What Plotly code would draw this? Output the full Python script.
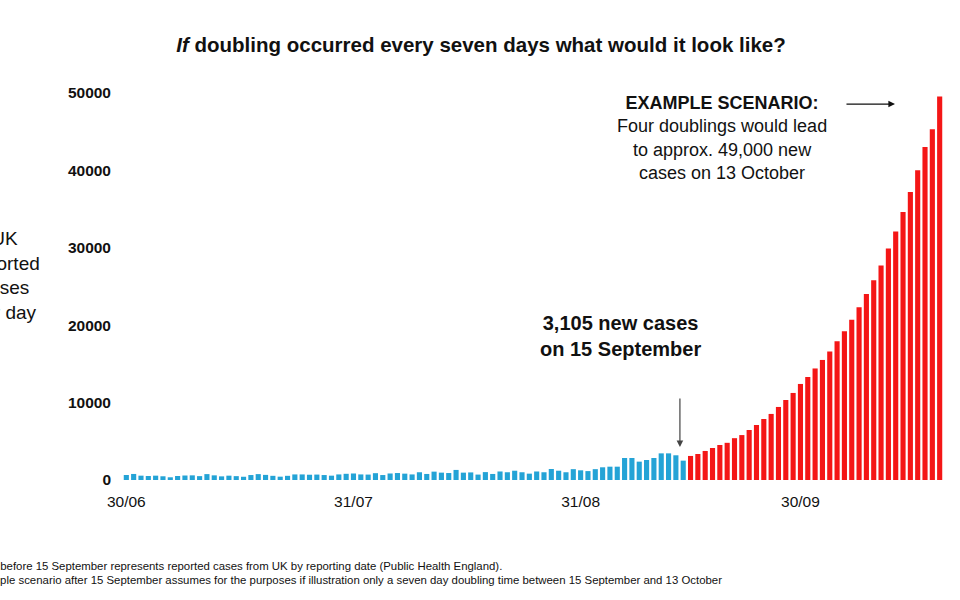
import plotly.graph_objects as go

# ---- data ----
reported_cases = [  # 30/06 .. 14/09 (blue bars)
    650, 780, 560, 520, 560, 480, 350, 520, 580, 600, 500, 760, 600, 470, 560, 500,
    420, 640, 760, 660, 540, 430, 540, 720, 720, 680, 700, 640, 560, 720, 800, 840,
    720, 700, 880, 640, 840, 900, 820, 720, 1000, 780, 1080, 950, 900, 1300, 950, 980,
    700, 1020, 780, 1100, 1000, 1200, 1000, 820, 1100, 1000, 1420, 1200, 1000, 1400,
    1250, 1150, 1400, 1640, 1720, 1720, 2840, 2840, 2370, 2580, 2840, 3440, 3440, 3190, 2500,
]
scenario_cases = [  # 15/09 onwards (red bars)
    3105, 3360, 3750, 4130, 4520, 4800, 5400, 5800, 6460, 7100, 7880, 8530, 9430,
    10330, 11240, 12400, 13300, 14400, 15500, 16600, 17900, 19200, 20700, 22300,
    24000, 25800, 27700, 29900, 32100, 34600, 37200, 40000, 43000, 45300, 49500,
]
x_tick_days = [0, 31, 62, 92]
x_tick_labels = ["30/06", "31/07", "31/08", "30/09"]
y_tick_vals = [0, 10000, 20000, 30000, 40000, 50000]
y_tick_labels = ["0", "10000", "20000", "30000", "40000", "50000"]

title_html = "<b><i>If</i> doubling occurred every seven days what would it look like?</b>"
left_label = "UK<br>reported<br>cases<br>per day"
note_1 = "Data before 15 September represents reported cases from UK by reporting date (Public Health England)."
note_2 = ("Example scenario after 15 September assumes for the purposes if illustration only a "
          "seven day doubling time between 15 September and 13 October")
ann_sept = "<b>3,105 new cases<br>on 15 September</b>"
ann_oct = "<b>EXAMPLE SCENARIO:</b><br>Four doublings would lead<br>to approx. 49,000 new<br>cases on 13 October"

days_blue = list(range(len(reported_cases)))
days_red = list(range(len(reported_cases), len(reported_cases) + len(scenario_cases)))

FONT = "Liberation Sans, Arial, Helvetica, sans-serif"
ML, MR, MT, MB = 119, 13, 85, 120
W, H = 960, 600
PW, PH = W - ML - MR, H - MT - MB


def px_x(p):
    return (p - ML) / PW


def px_y(p):
    return (H - MB - p) / PH


fig = go.Figure()
fig.add_trace(go.Bar(x=days_blue, y=reported_cases, marker=dict(color="#24a3d6", line_width=0),
                     showlegend=False))
fig.add_trace(go.Bar(x=days_red, y=scenario_cases, marker=dict(color="#f41616", line_width=0),
                     showlegend=False))

fig.update_layout(
    width=W, height=H,
    margin=dict(l=ML, r=MR, t=MT, b=MB),
    paper_bgcolor="white", plot_bgcolor="white",
    bargap=0.3,
    font=dict(family=FONT, color="#111"),
    title=dict(text=title_html, x=481 / W, xanchor="center", xref="container",
               y=1 - 45 / H, yanchor="middle", font=dict(size=20.5, family=FONT, color="#111")),
    xaxis=dict(range=[-1, 112], showgrid=False, zeroline=False, showline=False,
               tickmode="array", tickvals=x_tick_days, ticktext=x_tick_labels,
               ticks="", tickfont=dict(size=15.5, family=FONT, color="#111"),
               ticklabelstandoff=10),
    yaxis=dict(range=[0, 51000], showgrid=False, zeroline=False, showline=False,
               tickmode="array", tickvals=y_tick_vals, ticktext=y_tick_labels,
               ticks="", tickfont=dict(size=15.5, family=FONT, color="#111", weight="bold"),
               ticklabelstandoff=7),
)

annotations = [
    dict(text=left_label, xref="paper", yref="paper", x=px_x(4.6), y=px_y(275.5),
         xanchor="center", yanchor="middle", align="center", showarrow=False,
         font=dict(size=19, family=FONT, color="#111")),
    dict(text=note_1, xref="paper", yref="paper", x=px_x(-29), y=px_y(566),
         xanchor="left", yanchor="middle", align="left", showarrow=False,
         font=dict(size=11.4, family=FONT, color="#111")),
    dict(text=note_2, xref="paper", yref="paper", x=px_x(-31), y=px_y(580),
         xanchor="left", yanchor="middle", align="left", showarrow=False,
         font=dict(size=11.4, family=FONT, color="#111")),
    dict(text=ann_sept, xref="paper", yref="paper", x=px_x(620), y=px_y(336),
         xanchor="center", yanchor="middle", align="center", showarrow=False,
         font=dict(size=20, family=FONT, color="#111")),
    dict(text=ann_oct, xref="paper", yref="paper", x=px_x(722), y=px_y(138),
         xanchor="center", yanchor="middle", align="center", showarrow=False,
         font=dict(size=18, family=FONT, color="#111")),
    # arrow pointing down at 15 September
    dict(text="", x=75.55, y=4260, xref="x", yref="y", showarrow=True,
         ax=0, ay=-50, arrowhead=2, arrowsize=1.1, arrowwidth=1.2, arrowcolor="#444"),
    # arrow pointing at the last scenario bar
    dict(text="", x=104.9, y=48540, xref="x", yref="y", showarrow=True,
         ax=-50, ay=0, arrowhead=2, arrowsize=1.1, arrowwidth=1.2, arrowcolor="#111"),
]
fig.update_layout(annotations=annotations)

fig.write_html("out.html")
